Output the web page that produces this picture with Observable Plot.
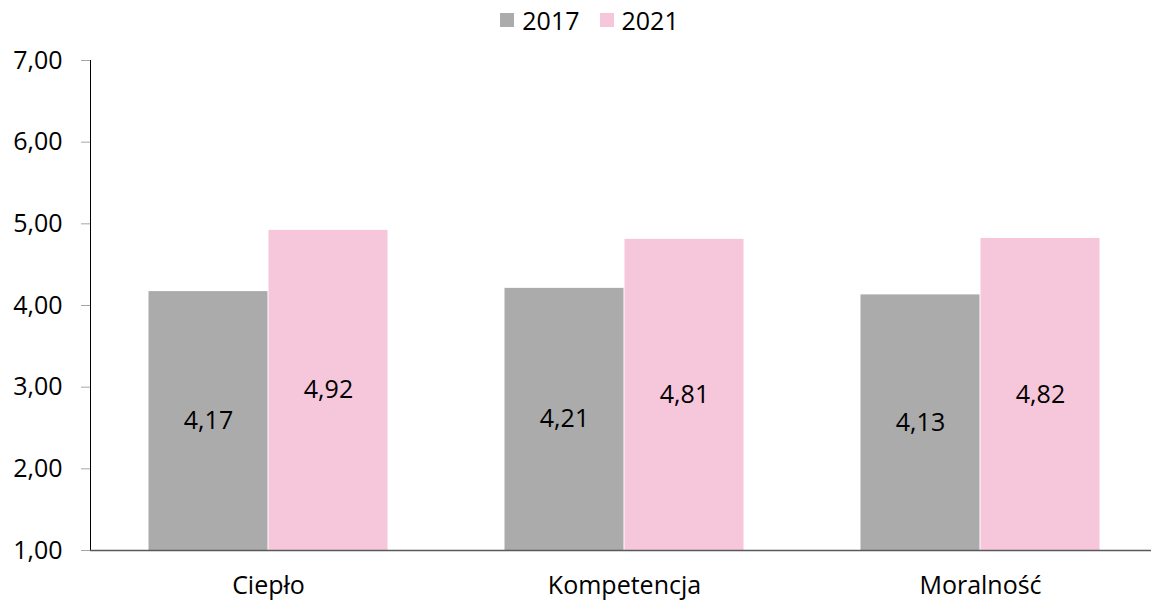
<!DOCTYPE html>
<html>
<head>
<meta charset="utf-8">
<script src="https://cdn.jsdelivr.net/npm/d3@7"></script>
<script src="https://cdn.jsdelivr.net/npm/@observablehq/plot@0.6"></script>
<style>
  body { margin: 0; background: #fff; font-family: "Open Sans", sans-serif; }
  #legend { height: 40px; display: flex; align-items: center; justify-content: center; padding-left: 28px; box-sizing: border-box; font-size: 25px; color: #000; }
  #legend .item { display: flex; align-items: center; margin: 0 10px; }
  #legend .sw { width: 14px; height: 14px; margin-right: 8px; }
  g[aria-label^="y-axis"] { color: #A6A6A6; }
  g[aria-label^="y-axis"] text { fill: #000; }
</style>
</head>
<body>
<div id="legend"></div>
<div id="chart"></div>
<script>
const categories = ["Ciepło", "Kompetencja", "Moralność"];
const years = ["2017", "2021"];
const values2017 = [4.17, 4.21, 4.13];
const values2021 = [4.92, 4.81, 4.82];
const yTicks = [1, 2, 3, 4, 5, 6, 7];
const colors = ["#ABABAB", "#F6C6DB"];

const data = [];
categories.forEach((c, i) => {
  data.push({cat: c, year: years[0], v: values2017[i]});
  data.push({cat: c, year: years[1], v: values2021[i]});
});

const fmt = d => d.toFixed(2).replace(".", ",");

const legend = document.getElementById("legend");
years.forEach((y, i) => {
  const it = document.createElement("div");
  it.className = "item";
  it.innerHTML = `<div class="sw" style="background:${colors[i]}"></div><span>${y}</span>`;
  legend.appendChild(it);
});

const chart = Plot.plot({
  width: 1151,
  height: 563,
  marginTop: 20,
  marginBottom: 53,
  marginLeft: 90,
  marginRight: -7,
  style: {fontFamily: "Open Sans, sans-serif", fontSize: "25px", color: "#000", background: "#fff"},
  fx: {domain: categories, padding: 0, label: null, tickSize: 0, tickPadding: 26, axis: "bottom"},
  x: {domain: years, paddingInner: 0, paddingOuter: 0.48, axis: null},
  y: {domain: [1, 7], ticks: yTicks, tickFormat: fmt, tickSize: 9, tickPadding: 19, line: true, label: null},
  color: {domain: years, range: colors},
  marks: [
    Plot.barY(data, {fx: "cat", x: "year", y1: 1, y2: "v", fill: "year", insetLeft: 0.5, insetRight: 0.5}),
    Plot.ruleY([1], {stroke: "#595959", strokeWidth: 1.5}),
    Plot.text(data, {fx: "cat", x: "year", y: d => (1 + d.v) / 2, text: d => fmt(d.v), fill: "#000", fontSize: 25})
  ]
});
document.getElementById("chart").appendChild(chart);
</script>
</body>
</html>
